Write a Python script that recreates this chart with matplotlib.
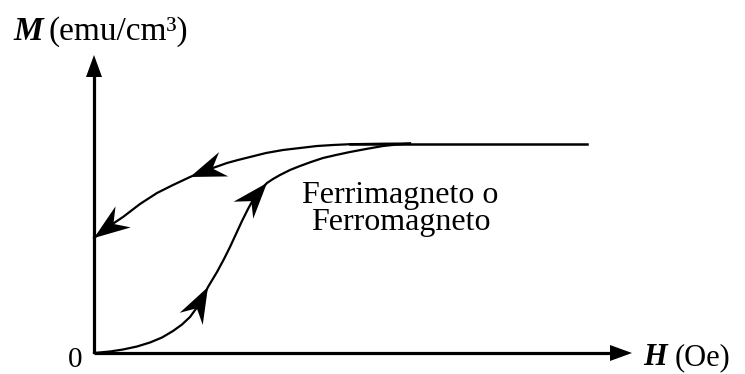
import numpy as np
import matplotlib
matplotlib.use('Agg')
import matplotlib.pyplot as plt
from matplotlib.patches import Polygon

# first magnetisation curve (H, M), arbitrary units
virginH = [0, 16, 29, 43, 56, 68, 79, 88, 96, 104, 109, 114, 123, 130, 136, 142, 148,
           154, 160, 166, 173, 179, 186, 196, 206, 217, 229, 242, 256, 272, 289, 303, 316]
virginM = [0, 1.5, 3.5, 6.5, 10.5, 15.5, 22, 28.5, 36, 47, 56, 66, 81, 94, 106, 119, 132,
           144, 155, 163, 170, 174, 178, 183, 187, 191, 195, 198, 201, 204, 207, 208.5, 209.5]

# return branch from saturation down to remanence
returnH = [316, 289, 256, 239, 223, 206, 189, 172, 156, 144, 133, 116, 96, 79, 63, 46, 29, 14, 0]
returnM = [209.5, 209.3, 208.8, 208, 207, 205, 203, 200, 196, 193, 190, 184, 176, 168, 160, 149, 136, 126, 115]

# saturation plateau
satH = [256, 493]
satM = [209.5, 209.5]

# arrowheads sit on these indices of each curve
virginArrows = [11, 20]
returnArrows = [12, 18]

axisH = 538
axisM = 298

fig = plt.figure(figsize=(7.45, 3.74), dpi=100)
ax = fig.add_axes([0, 0, 1, 1])
ax.set_xlim(-94, 651)
ax.set_ylim(-21, 353)
ax.set_aspect('equal')
ax.axis('off')


def head(x, y, dx, dy, L, W, N):
    # notched arrowhead, tip at (x, y) pointing along (dx, dy)
    d = np.array([dx, dy], float)
    d = d / np.hypot(*d)
    n = np.array([-d[1], d[0]])
    tip = np.array([x, y], float)
    pts = [tip, tip - L*d + W*n, tip - N*d, tip - L*d - W*n]
    ax.add_patch(Polygon(pts, closed=True, color='black', lw=0, zorder=5))


# axes with arrows
ax.plot([0, 0], [0, axisM - 15], color='black', lw=2.3, solid_capstyle='butt')
ax.plot([0, axisH - 15], [0, 0], color='black', lw=2.3, solid_capstyle='butt')
head(0, axisM, 0, 1, 22, 8, 22)
head(axisH, 0, 1, 0, 22, 8, 22)

# curves
ax.plot(virginH, virginM, color='black', lw=1.6, solid_joinstyle='round')
ax.plot(returnH, returnM, color='black', lw=1.6, solid_joinstyle='round')
ax.plot(satH, satM, color='black', lw=1.8)

for i in virginArrows:
    head(virginH[i], virginM[i], virginH[i] - virginH[i-2], virginM[i] - virginM[i-2], 36, 13, 24)
for i in returnArrows:
    head(returnH[i], returnM[i], returnH[i] - returnH[i-2], returnM[i] - returnM[i-2], 36, 13, 24)

serif = 'Liberation Serif'
ax.text(-81, 313, 'M', family=serif, size=24, weight='bold', style='italic', va='baseline')
ax.text(-46, 313, '(emu/cm³)', family=serif, size=24, va='baseline')
ax.text(549, -12, 'H', family=serif, size=22, weight='bold', style='italic', va='baseline')
ax.text(581, -12, '(Oe)', family=serif, size=22, va='baseline')
ax.text(-19, -14, '0', family=serif, size=21, ha='center', va='baseline')
ax.text(306, 150, 'Ferrimagneto o', family=serif, size=23, ha='center', va='baseline')
ax.text(307, 123, 'Ferromagneto', family=serif, size=23, ha='center', va='baseline')

fig.savefig('out.png', dpi=100)
